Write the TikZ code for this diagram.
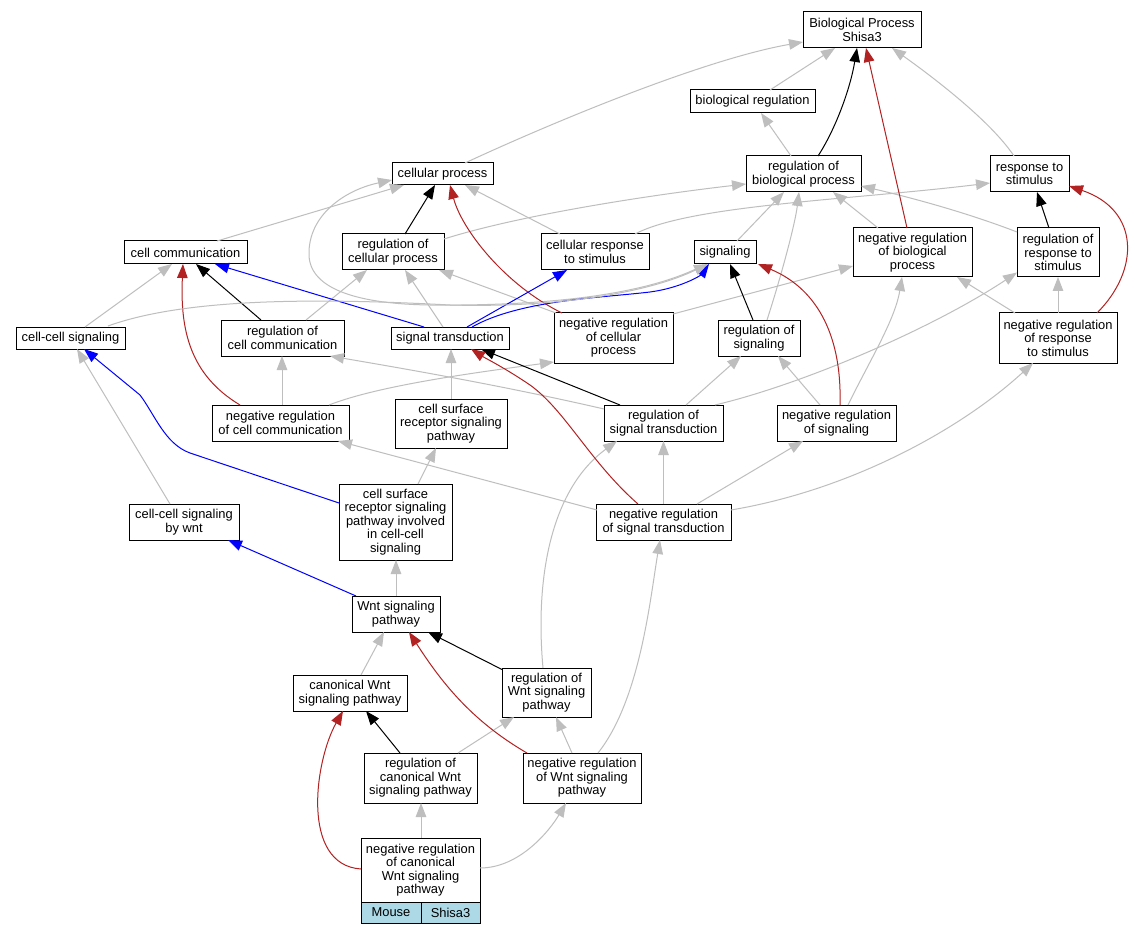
\documentclass[tikz,border=0pt]{standalone}
\usepackage{fontspec}
\setmainfont{Liberation Sans}
\usetikzlibrary{arrows.meta,calc}
\definecolor{eg}{HTML}{BEBEBE}
\definecolor{er}{HTML}{B22222}
\definecolor{eb}{HTML}{0000FF}
\definecolor{lb}{HTML}{ADD8E6}
\newcommand\nodefont{\fontsize{12.9pt}{13.4pt}\selectfont}
\newcommand\bx[6]{\node[box,minimum width=#4pt,minimum height=#5pt] (#1) at (#2,#3) {#6};}
\tikzset{
  box/.style={draw=black, line width=1pt, fill=white, inner sep=0pt, align=center, font=\nodefont},
  edge/.style={line width=1pt, -{Triangle[length=14pt,width=10.5pt]}},
  ge/.style={edge, draw=eg},
  be/.style={edge, draw=black},
  re/.style={edge, draw=er},
  ble/.style={edge, draw=eb},
}
\begin{document}
\begin{tikzpicture}[x=1pt,y=-1pt]
\useasboundingbox (0,0) rectangle (1135,933);
\fill[white] (0,0) rectangle (1135,933);
% nodes
\bx{bp}{862}{30}{118}{36}{Biological Process\\Shisa3}
\bx{breg}{752.5}{101.5}{125}{23}{biological regulation}
\bx{cp}{442.5}{174}{101}{22}{cellular process}
\bx{rbp}{803.5}{174}{115}{36}{regulation of\\biological process}
\bx{rs}{1029.5}{174}{79}{36}{response to\\stimulus}
\bx{cc}{185.5}{252.5}{123}{23}{cell communication}
\bx{rcp}{393}{252}{102}{36}{regulation of\\cellular process}
\bx{crs}{595}{252}{108}{36}{cellular response\\to stimulus}
\bx{sig}{725}{252.5}{62}{23}{signaling}
\bx{nrbp}{912.5}{252.5}{119}{49}{negative regulation\\of biological\\process}
\bx{rrs}{1058}{252.5}{82}{49}{regulation of\\response to\\stimulus}
\bx{ccs}{70.5}{338}{109}{22}{cell-cell signaling}
\bx{rcc}{282.5}{338}{123}{36}{regulation of\\cell communication}
\bx{st}{450}{338}{118}{22}{signal transduction}
\bx{nrcp}{613.5}{338}{119}{50}{negative regulation\\of cellular\\process}
\bx{rsig}{759}{338}{82}{36}{regulation of\\signaling}
\bx{nrrs}{1058}{338}{118}{50}{negative regulation\\of response\\to stimulus}
\bx{nrcc}{280.5}{423}{137}{36}{negative regulation\\of cell communication}
\bx{csr}{451}{423.5}{112}{49}{cell surface\\receptor signaling\\pathway}
\bx{rst}{663.5}{423}{119}{36}{regulation of\\signal transduction}
\bx{nrsig}{836.5}{423}{119}{36}{negative regulation\\of signaling}
\bx{ccsw}{184}{522}{110}{36}{cell-cell signaling\\by wnt}
\bx{csrcc}{395.5}{522}{113}{76}{cell surface\\receptor signaling\\pathway involved\\in cell-cell\\signaling}
\bx{nrst}{663.5}{522}{135}{36}{negative regulation\\of signal transduction}
\bx{wnt}{396}{614}{88}{36}{Wnt signaling\\pathway}
\bx{cwnt}{350}{693}{114}{36}{canonical Wnt\\signaling pathway}
\bx{rwnt}{546.5}{692.5}{89}{49}{regulation of\\Wnt signaling\\pathway}
\bx{rcwnt}{420.5}{778}{113}{50}{regulation of\\canonical Wnt\\signaling pathway}
\bx{nrwnt}{582}{778}{118}{50}{negative regulation\\of Wnt signaling\\pathway}
\bx{nrcwnt}{420.5}{870}{119}{64}{negative regulation\\of canonical\\Wnt signaling\\pathway}
\node[box,fill=lb,minimum width=60pt,minimum height=21pt] (mouse) at (391,912.5) {Mouse};
\node[box,fill=lb,minimum width=59pt,minimum height=21pt] (shisa) at (450.5,912.5) {Shisa3};
% gray edges
\draw[ge] ($(cp)+(22.5,-11)$) .. controls (540,128) and (700,60) .. ($(bp)+(-59,12)$);
\draw[ge] ($(breg)+(17.5,-11.5)$) -- ($(bp)+(-27,18)$);
\draw[ge] ($(rs)+(-15.5,-18)$) .. controls (990,120) and (930,75) .. ($(bp)+(30,18)$);
\draw[ge] ($(rbp)+(-12.5,-18)$) -- ($(breg)+(8.5,11.5)$);
\draw[ge] ($(cc)+(31.5,-11.5)$) -- ($(cp)+(-38.5,11)$);
\draw[ge] ($(st)+(-7,-11)$) -- ($(rcp)+(12,18)$);
\draw[ge] ($(nrcp)+(-57.5,-25)$) -- ($(rcp)+(46,18)$);
\draw[ge] ($(crs)+(-35,-18)$) -- ($(cp)+(22.5,11)$);
\draw[ge] ($(rcp)+(51,-13)$) .. controls (520,215) and (650,195) .. ($(rbp)+(-57.5,10)$);
\draw[ge] ($(crs)+(40,-18)$) .. controls (690,205) and (850,200) .. ($(rs)+(-39.5,9)$);
\draw[ge] ($(sig)+(12,-11.5)$) -- ($(rbp)+(-19.5,18)$);
\draw[ge] ($(rsig)+(8,-18)$) .. controls (780,280) and (795,225) .. ($(rbp)+(-4.5,18)$);
\draw[ge] ($(nrbp)+(-34.5,-24.5)$) -- ($(rbp)+(29.5,18)$);
\draw[ge] ($(rrs)+(-41,-20.5)$) .. controls (960,210) and (900,195) .. ($(rbp)+(57.5,12)$);
\draw[ge] ($(nrrs)+(0,-25)$) -- ($(rrs)+(0,24.5)$);
\draw[ge] ($(nrrs)+(-43,-25)$) -- ($(nrbp)+(44.5,24.5)$);
\draw[ge] ($(rst)+(51.5,-18)$) .. controls (800,385) and (930,330) .. ($(rrs)+(-41,20)$);
\draw[ge] ($(nrcp)+(59.5,-24)$) -- ($(nrbp)+(-59.5,13.5)$);
\draw[ge] ($(rst)+(-59.5,-14)$) .. controls (500,385) and (400,368) .. ($(rcc)+(47.5,18)$);
\draw[ge] ($(nrcc)+(1.5,-18)$) -- ($(rcc)+(-0.5,18)$);
\draw[ge] ($(rcc)+(23.5,-18)$) -- ($(rcp)+(-26,18)$);
\draw[ge] ($(ccs)+(14.5,-11)$) -- ($(cc)+(-13.5,11.5)$);
\draw[ge] ($(nrcc)+(48.5,-18)$) .. controls (380,385) and (480,372) .. ($(nrcp)+(-59.5,24)$);
\draw[ge] ($(csr)+(0,-24.5)$) -- ($(st)+(1,11)$);
\draw[ge] ($(csrcc)+(22.5,-38)$) -- ($(csr)+(-15,24.5)$);
\draw[ge] ($(ccsw)+(-14,-18)$) -- ($(ccs)+(6.5,11)$);
\draw[ge] ($(wnt)+(0,-18)$) -- ($(csrcc)+(0.5,38)$);
\draw[ge] ($(nrst)+(-66.5,-12)$) -- ($(nrcc)+(57.5,18)$);
\draw[ge] ($(nrst)+(0,-18)$) -- ($(rst)+(0,18)$);
\draw[ge] ($(nrst)+(33.5,-18)$) -- ($(nrsig)+(-33.5,18)$);
\draw[ge] ($(nrst)+(67.5,-12)$) .. controls (850,490) and (960,430) .. ($(nrrs)+(-25,25)$);
\draw[ge] ($(rst)+(22.5,-18)$) -- ($(rsig)+(-18,18)$);
\draw[ge] ($(nrsig)+(-16.5,-18)$) -- ($(rsig)+(19,18)$);
\draw[ge] ($(nrsig)+(11.5,-18)$) .. controls (870,360) and (895,320) .. ($(nrbp)+(-10.5,24.5)$);
\draw[ge] ($(rwnt)+(-3.5,-24.5)$) .. controls (535,580) and (550,490) .. ($(rst)+(-46.5,18)$);
\draw[ge] ($(nrwnt)+(16,-25)$) .. controls (640,700) and (650,600) .. ($(nrst)+(-3.5,18)$);
\draw[ge] ($(cwnt)+(11,-18)$) -- ($(wnt)+(-12,18)$);
\draw[ge] ($(rcwnt)+(37.5,-25)$) -- ($(rwnt)+(-32.5,24.5)$);
\draw[ge] ($(nrwnt)+(-10,-25)$) -- ($(rwnt)+(9.5,24.5)$);
\draw[ge] ($(nrcwnt)+(0.5,-32)$) -- ($(rcwnt)+(0.5,25)$);
\draw[ge] ($(nrcwnt)+(59.5,-2)$) .. controls (520,868) and (550,830) .. ($(nrwnt)+(-16,25)$);
% loop signaling -> cellular process
\draw[ge] ($(sig)+(-23,13.5)$) .. controls (640,298) and (530,306) .. (430,305) .. controls (360,304) and (310,290) .. (309,255) .. controls (308,215) and (345,190) .. ($(cp)+(-50.5,6)$);
% black edges
\draw[be] ($(rbp)+(14.5,-18)$) .. controls (835,130) and (850,90) .. ($(bp)+(-5,18)$);
\draw[be] ($(rcp)+(12,-18)$) -- ($(cp)+(-7.5,11)$);
\draw[be] ($(rrs)+(-9,-24.5)$) -- ($(rs)+(7.5,18)$);
\draw[be] ($(rcc)+(-21.5,-18)$) -- ($(cc)+(10.5,11.5)$);
\draw[be] ($(rst)+(-43.5,-18)$) -- ($(st)+(31,11)$);
\draw[be] ($(rsig)+(-6,-18)$) -- ($(sig)+(5,11.5)$);
\draw[be] ($(rwnt)+(-44.5,-23)$) -- ($(wnt)+(32,18)$);
\draw[be] ($(rcwnt)+(-20.5,-25)$) -- ($(cwnt)+(16,18)$);
% red edges
\draw[re] ($(nrbp)+(-5.5,-24.5)$) -- ($(bp)+(4,18)$);
\draw[re] ($(nrcp)+(-51.5,-25)$) .. controls (505,285) and (462,230) .. ($(cp)+(7.5,11)$);
\draw[re] ($(nrrs)+(39,-25)$) .. controls (1140,270) and (1140,210) .. ($(rs)+(39.5,12)$);
\draw[re] ($(nrcc)+(-40.5,-18)$) .. controls (190,375) and (180,330) .. ($(cc)+(-2.5,11.5)$);
\draw[re] ($(nrst)+(-25.5,-18)$) .. controls (590,462) and (565,410) .. (530,385) .. controls (505,368) and (485,358) .. ($(st)+(21,11)$);
\draw[re] ($(nrsig)+(3.5,-18)$) .. controls (842,340) and (820,290) .. ($(sig)+(33,11.5)$);
\draw[re] ($(nrwnt)+(-55,-25)$) .. controls (470,720) and (440,680) .. ($(wnt)+(13,18)$);
\draw[re] ($(nrcwnt)+(-59.5,-1)$) .. controls (300,865) and (315,760) .. ($(cwnt)+(-7,18)$);
% blue edges
\draw[ble] ($(st)+(22,-11)$) .. controls (520,300) and (600,298) .. (650,292) .. controls (680,288) and (700,276) .. ($(sig)+(-16,11.5)$);
\draw[ble] ($(st)+(17,-11)$) -- ($(crs)+(-28,18)$);
\draw[ble] ($(st)+(-26,-11)$) -- ($(cc)+(29.5,11.5)$);
\draw[ble] ($(csrcc)+(-56.5,-19)$) -- (190,453) .. controls (165,444) and (155,415) .. (140,395) -- ($(ccs)+(13.5,11)$);
\draw[ble] ($(wnt)+(-40,-18)$) -- ($(ccsw)+(44,18)$);
% cell-cell signaling -> signaling (gray, over blue)
\draw[ge] ($(ccs)+(37.5,-12)$) .. controls (180,300) and (300,297) .. (450,305) .. controls (560,308) and (650,292) .. ($(sig)+(-17,11.5)$);
\end{tikzpicture}
\end{document}
